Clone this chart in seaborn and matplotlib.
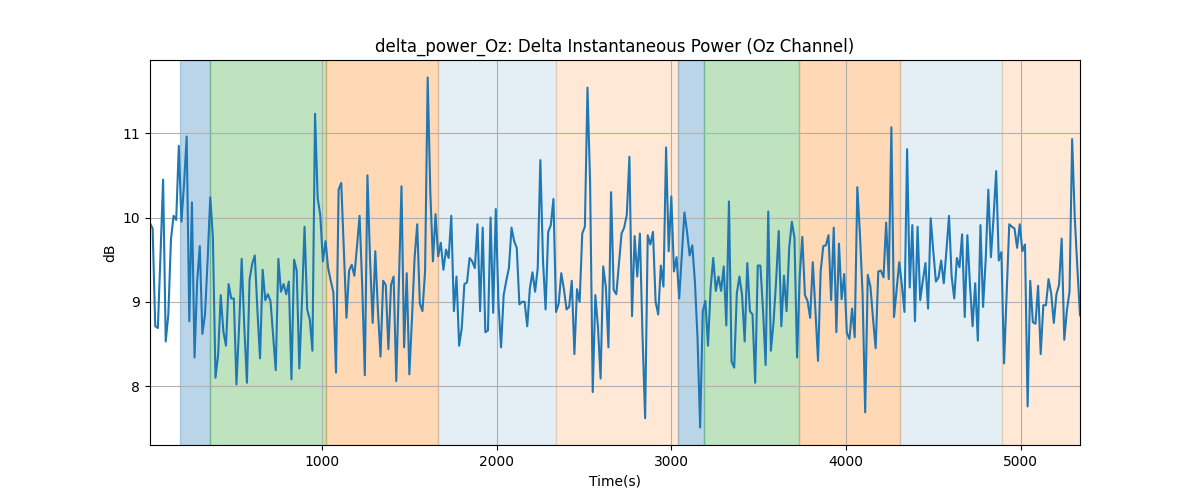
import numpy as np
import pandas as pd
import matplotlib
matplotlib.use("Agg")
import matplotlib.pyplot as plt
import seaborn as sns

# Delta power values (dB), sampled every 15 s starting at t=15 s
power_db = [
    # ~15 - 900 s
    9.93, 9.87, 8.71, 8.69, 9.55, 10.45, 8.53, 8.85, 9.74, 10.02, 9.97, 10.85,
    9.95, 10.40, 10.96, 8.77, 10.18, 8.34, 9.24, 9.66, 8.62, 8.85, 9.50, 10.24,
    9.77, 8.10, 8.37, 9.08, 8.65, 8.48, 9.21, 9.04, 9.04, 8.02, 8.70, 9.51,
    8.70, 8.04, 9.26, 9.45, 9.55, 8.90, 8.33, 9.38, 9.02, 9.09, 9.01, 8.60,
    8.19, 9.51, 9.12, 9.21, 9.09, 9.24, 8.08, 9.50, 9.37, 8.21, 9.00, 9.89,
    # ~900 - 1785 s
    8.91, 8.79, 8.42, 11.23, 10.23, 10.03, 9.48, 9.72, 9.40, 9.25, 9.11,
    8.16, 10.33, 10.41, 9.60, 8.81, 9.37, 9.44, 9.31, 9.65, 10.02, 9.20, 8.13, 10.50,
    9.50, 8.75, 9.60, 8.90, 8.35, 9.25, 9.20, 8.44, 9.20, 9.30, 8.06, 9.20, 10.37,
    8.46, 9.34, 8.14, 8.80, 9.52, 9.92, 8.98, 8.89, 9.36, 11.66, 10.30, 9.48, 10.04,
    9.54, 9.70, 9.38, 9.62, 9.52, 10.02, 8.89, 9.30, 8.48,
    # ~1785 - 2670 s
    8.69, 9.21, 9.23, 9.52, 9.48, 9.40, 9.92, 8.89, 9.88, 8.64, 8.66,
    10.00, 8.87, 10.10, 9.00, 8.46, 9.08, 9.25, 9.40, 9.88, 9.72, 9.64, 8.97, 9.00,
    9.00, 8.71, 9.16, 9.35, 9.12, 9.40, 10.68, 9.50, 8.91, 9.83, 9.91, 10.22, 8.88,
    8.98, 9.34, 9.15, 8.91, 8.94, 9.25, 8.38, 9.15, 9.00, 9.81, 9.89, 11.54, 10.40,
    7.93, 9.08, 8.70, 8.09, 9.42, 9.18, 8.46, 10.30, 9.14,
    # ~2670 - 3555 s
    9.09, 9.45, 9.81, 9.88, 10.03, 10.72, 8.83, 9.78, 9.30, 9.81, 8.60,
    7.62, 9.79, 9.68, 9.83, 9.00, 8.85, 9.43, 9.18, 10.83, 9.60, 10.25, 9.36, 9.53,
    9.04, 9.55, 10.06, 9.83, 9.55, 9.67, 9.24, 8.57, 7.51, 8.89, 9.01, 8.48, 9.16,
    9.52, 9.13, 9.30, 9.13, 9.42, 8.72, 10.19, 8.29, 8.22, 9.10, 9.30, 9.08, 8.53,
    9.46, 8.89, 8.85, 8.04, 9.43, 9.43, 8.90, 8.25, 10.07,
    # ~3555 - 4440 s
    8.42, 8.75, 9.25, 9.84, 8.71, 9.31, 8.89, 9.64, 9.95, 9.76, 8.34,
    9.30, 9.77, 9.08, 9.01, 8.81, 9.47, 8.90, 8.30, 9.36, 9.66, 9.67, 9.79, 9.02,
    9.88, 8.64, 9.69, 9.03, 9.33, 8.63, 8.56, 8.92, 8.58, 10.36, 9.80, 9.10, 7.69,
    9.32, 9.18, 8.80, 8.45, 9.36, 9.37, 9.29, 9.94, 9.27, 11.07, 8.82, 9.15, 9.47,
    9.20, 8.88, 10.81, 9.17, 9.91, 8.77, 9.89, 9.02, 9.25,
    # ~4440 - 5340 s
    9.46, 8.92, 9.99, 9.60, 9.24, 9.29, 9.49, 9.22, 9.60, 10.02, 9.30,
    9.04, 9.52, 9.41, 9.80, 8.82, 9.79, 9.20, 8.71, 9.22, 8.54, 9.91, 8.94, 9.50,
    10.33, 9.53, 10.00, 10.55, 9.49, 9.59, 8.27, 9.10, 9.92, 9.89, 9.87, 9.64, 9.92,
    9.60, 9.68, 7.76, 9.25, 8.76, 8.74, 9.19, 8.38, 8.96, 8.96, 9.27, 9.10, 8.75,
    9.09, 9.20, 9.75, 8.55, 8.90, 9.12, 10.93, 10.00, 9.40, 8.84,
]
t_start = 15
t_step = 15

# Shaded stage segments: (start, end, colour, alpha)
span_starts = [185, 360, 1020, 1665, 2340, 3040, 3187, 3731, 4311, 4892]
span_ends = [360, 1020, 1665, 2340, 3040, 3187, 3731, 4311, 4892, 5400]
span_colors = ["tab:blue", "tab:green", "tab:orange", "tab:blue", "tab:orange",
               "tab:blue", "tab:green", "tab:orange", "tab:blue", "tab:orange"]
span_alphas = [0.3, 0.3, 0.3, 0.12, 0.17, 0.3, 0.3, 0.3, 0.12, 0.17]

time_s = t_start + t_step * np.arange(len(power_db))
df = pd.DataFrame({"Time(s)": time_s, "dB": power_db})

fig, ax = plt.subplots(figsize=(12, 5), dpi=100)
for s, e, c, a in zip(span_starts, span_ends, span_colors, span_alphas):
    ax.axvspan(s, e, color=c, alpha=a)

sns.lineplot(data=df, x="Time(s)", y="dB", ax=ax, color="tab:blue", linewidth=1.5)
ax.set_xlim(time_s.min(), time_s.max())
ax.grid(True)
ax.set_title("delta_power_Oz: Delta Instantaneous Power (Oz Channel)")
ax.set_xlabel("Time(s)")
ax.set_ylabel("dB")

fig.savefig("out.png", dpi=100)
